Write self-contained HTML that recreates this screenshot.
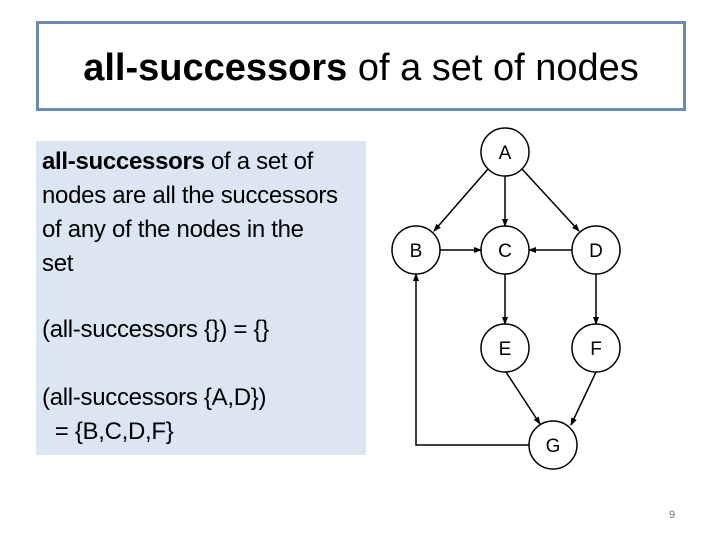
<!DOCTYPE html>
<html><head><meta charset="utf-8"><style>
body{margin:0;width:720px;height:540px;background:#fff;position:relative;font-family:"Liberation Sans",sans-serif;overflow:hidden}
.title{position:absolute;left:36px;top:21px;width:644px;height:84px;border:3px solid #6a8bb5;text-align:center;line-height:88px;font-size:38px;color:#000;white-space:nowrap}
.box{position:absolute;left:36px;top:141px;width:330px;height:314px;background:#dce6f2}
.t{position:absolute;left:42px;font-size:24px;line-height:34px;color:#000;white-space:nowrap;letter-spacing:-0.3px}
</style></head><body>
<div class="title"><b>all-successors</b> of a set of nodes</div>
<div class="box"></div>
<div class="t" style="top:145px"><b>all-successors</b> of a set of<br>nodes are all the successors<br>of any of the nodes in the<br>set</div>
<div class="t" style="top:313px">(all-successors {}) = {}</div>
<div class="t" style="top:381px">(all-successors {A,D})<br>&nbsp;&nbsp;= {B,C,D,F}</div>
<svg width="720" height="540" style="position:absolute;left:0;top:0">
<defs><marker id="a" markerWidth="8" markerHeight="8" refX="7" refY="4" orient="auto" markerUnits="userSpaceOnUse"><path d="M0,1 L8,4 L0,7z" fill="#000"/></marker></defs>
<g stroke="#000" stroke-width="1.5" fill="#fff">
<circle cx="505" cy="152" r="24"/><circle cx="416" cy="250" r="24"/><circle cx="505" cy="250" r="24"/><circle cx="596" cy="250" r="24"/><circle cx="505" cy="348" r="24"/><circle cx="596" cy="348" r="24"/><circle cx="553" cy="445" r="24"/>
</g>
<g stroke="#000" stroke-width="1.5" fill="none" marker-end="url(#a)">
<line x1="488" y1="169" x2="434" y2="231"/>
<line x1="505" y1="176" x2="505" y2="226"/>
<line x1="522" y1="169" x2="579" y2="231"/>
<line x1="440" y1="250" x2="481" y2="250"/>
<line x1="572" y1="250" x2="529" y2="250"/>
<line x1="505" y1="274" x2="505" y2="324"/>
<line x1="596" y1="274" x2="596" y2="324"/>
<line x1="506" y1="372" x2="540" y2="424"/>
<line x1="596" y1="372" x2="571" y2="425"/>
<polyline points="529,445 416,445 416,274"/>
</g>
<g font-size="19" text-anchor="middle" font-family="Liberation Sans,sans-serif">
<text x="505" y="159">A</text><text x="416" y="257">B</text><text x="505" y="257">C</text><text x="596" y="257">D</text><text x="505" y="355">E</text><text x="596" y="355">F</text><text x="553" y="452">G</text>
</g>
<text x="672" y="518" font-size="11" fill="#777" text-anchor="middle">9</text>
</svg>
</body></html>
